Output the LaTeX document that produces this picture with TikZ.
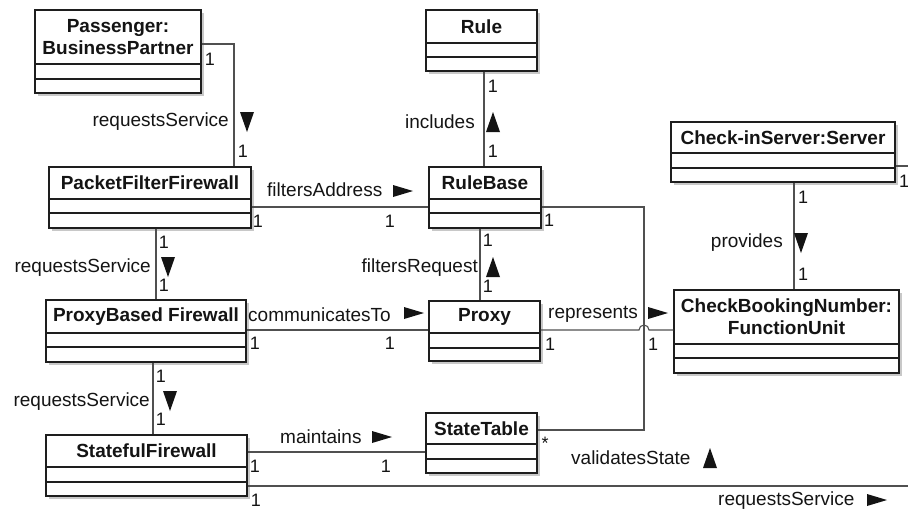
\documentclass[tikz,border=0pt]{standalone}
\usepackage{fontspec}
\setmainfont{Liberation Sans}
\usetikzlibrary{fit}

\definecolor{boxline}{HTML}{1E1E1E}
\definecolor{linecol}{HTML}{505050}
\definecolor{shadecol}{HTML}{C8C8C8}
\definecolor{textcol}{HTML}{141414}

\tikzset{
  clsbox/.style={draw=boxline, line width=1.3pt, fill=white, inner sep=0pt},
  clsdiv/.style={draw=boxline, line width=1.3pt},
  clsname/.style={font=\fontsize{19}{22}\selectfont\bfseries, align=center, inner sep=0pt, text=textcol},
  assoc/.style={draw=linecol, line width=1.1pt},
  lbl/.style={font=\fontsize{19}{22}\selectfont, inner sep=0pt, text=textcol},
  mult/.style={font=\fontsize{18}{20}\selectfont, inner sep=0pt, text=textcol},
  dirmark/.style={fill=textcol},
}

% UML class with three compartments:
% #1 name, #2 left, #3 top, #4 right, #5 bottom, #6 first divider, #7 second divider, #8 title
\newcommand\umlclass[8]{%
  \fill[shadecol] (#2+3,#3+3) rectangle (#4+3,#5+3);
  \node[clsbox, fit={(#2,#3) (#4,#5)}] (#1) {};
  \draw[clsdiv] (#1.west |- 0,#6) -- (#1.east |- 0,#6);
  \draw[clsdiv] (#1.west |- 0,#7) -- (#1.east |- 0,#7);
  \node[clsname] (#1-title) at ({(#2+#4)/2},{(#3+#6)/2}) {#8};
}

% direction marks of association names
\newcommand\dirdown[2]{\fill[dirmark] (#1-7,#2-10) -- (#1+7,#2-10) -- (#1,#2+10) -- cycle;}
\newcommand\dirup[2]{\fill[dirmark] (#1-7,#2+10) -- (#1+7,#2+10) -- (#1,#2-10) -- cycle;}
\newcommand\dirright[2]{\fill[dirmark] (#1-10,#2-6) -- (#1+10,#2) -- (#1-10,#2+6) -- cycle;}

\begin{document}
\begin{tikzpicture}[x=1pt, y=-1pt]
\useasboundingbox (0,0) rectangle (908,509);

\coordinate (edgeE) at (915,166);
\coordinate (edgeS) at (915,486);

% classes
\umlclass{pass}{35}{10}{201}{93}{64}{79}{Passenger:\\BusinessPartner}
\umlclass{rule}{426}{10}{537}{71}{43}{57}{Rule}
\umlclass{pff}{49}{167}{251}{228}{199}{213}{PacketFilterFirewall}
\umlclass{rb}{429}{167}{541}{228}{199}{213}{RuleBase}
\umlclass{srv}{671}{122}{895}{182}{153}{168}{Check-inServer:Server}
\umlclass{pbf}{46}{300}{246}{362}{333}{347}{ProxyBased Firewall}
\umlclass{proxy}{429}{301}{540}{361}{333}{348}{Proxy}
\umlclass{cbn}{674}{290}{899}{373}{344}{358}{CheckBookingNumber:\\FunctionUnit}
\umlclass{sf}{46}{435}{247}{496}{467}{482}{StatefulFirewall}
\umlclass{st}{426}{413}{537}{473}{444}{459}{StateTable}

% associations
\draw[assoc] (pass.east |- 0,44) -| (pff.north -| 234,0);
\draw[assoc] (pff.east |- 0,207) -- (rb.west |- 0,207);
\draw[assoc] (rule.south -| 484,0) -- (rb.north -| 484,0);
\draw[assoc] (rb.south -| 480,0) -- (proxy.north -| 480,0);
\draw[assoc] (rb.east |- 0,207) -| (644,430) -- (st.east |- 0,430);
\draw[assoc] (proxy.east |- 0,330) -- (639,330)
  arc[start angle=180, end angle=0, radius=5pt] -- (cbn.west |- 0,330);
\draw[assoc] (pff.south -| 156,0) -- (pbf.north -| 156,0);
\draw[assoc] (pbf.east |- 0,330) -- (proxy.west |- 0,330);
\draw[assoc] (pbf.south -| 153,0) -- (sf.north -| 153,0);
\draw[assoc] (sf.east |- 0,452) -- (st.west |- 0,452);
\draw[assoc] (sf.east |- 0,486) -- (edgeS);
\draw[assoc] (srv.south -| 794,0) -- (cbn.north -| 794,0);
\draw[assoc] (srv.east |- 0,166) -- (edgeE);

% association names
\node[lbl, anchor=east] (l1) at (229,121.5) {requestsService};
\dirdown{247}{122}
\node[lbl, anchor=east] (l2) at (475,121.5) {includes};
\dirup{493}{122}
\node[lbl, anchor=west] (l3) at (267,189.5) {filtersAddress};
\dirright{403}{191}
\node[lbl, anchor=east] (l4) at (478,267.5) {filtersRequest};
\dirup{493}{267}
\node[lbl, anchor=east] (l5) at (151,267.5) {requestsService};
\dirdown{168}{267}
\node[lbl, anchor=west] (l6) at (248,314.5) {communicatesTo};
\dirright{414}{313}
\node[lbl, anchor=west] (l7) at (548,314.5) {represents};
\dirright{658}{313}
\node[lbl, anchor=east] (l8) at (783,242.5) {provides};
\dirdown{801}{243}
\node[lbl, anchor=east] (l9) at (150,401.5) {requestsService};
\dirdown{170}{401}
\node[lbl, anchor=west] (l10) at (280,437) {maintains};
\dirright{382}{437}
\node[lbl, anchor=west] (l11) at (571,458) {validatesState};
\dirup{710}{458}
\node[lbl, anchor=west] (l12) at (718,500.5) {requestsService};
\dirright{877}{500}

% multiplicities
\node[mult] (m1) at (210,59) {1};
\node[mult] (m2) at (243,151) {1};
\node[mult] (m3) at (493,86) {1};
\node[mult] (m4) at (493,151) {1};
\node[mult] (m5) at (258,221) {1};
\node[mult] (m6) at (390,221) {1};
\node[mult] (m7) at (549,220) {1};
\node[mult] (m8) at (488,240) {1};
\node[mult] (m9) at (488,286) {1};
\node[mult] (m10) at (164,242) {1};
\node[mult] (m11) at (164,285) {1};
\node[mult] (m12) at (255,343) {1};
\node[mult] (m13) at (390,343) {1};
\node[mult] (m14) at (550,344) {1};
\node[mult] (m15) at (653,344) {1};
\node[mult] (m16) at (803,197) {1};
\node[mult] (m17) at (803,274) {1};
\node[mult] (m18) at (904,181) {1};
\node[mult] (m19) at (161,376) {1};
\node[mult] (m20) at (161,419) {1};
\node[mult] (m21) at (255,466) {1};
\node[mult] (m22) at (386,466) {1};
\node[mult] (m23) at (256,500) {1};
\node[mult] (m24) at (545,443) {*};
\end{tikzpicture}
\end{document}
